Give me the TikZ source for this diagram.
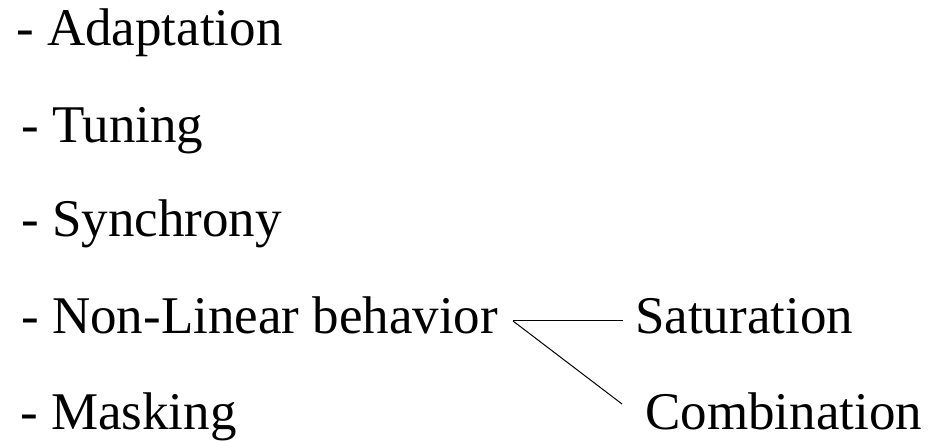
\documentclass[tikz,border=0pt]{standalone}
\usepackage{fontspec}
\setmainfont{Liberation Serif}
\begin{document}
\begin{tikzpicture}[x=1pt,y=1pt,
  item/.style={anchor=base west,inner sep=0pt,font=\fontsize{53}{60}\selectfont},
  conn/.style={line width=1pt,black}]
\useasboundingbox (0,0) rectangle (930,442);
\node[item] (ad) at (16,396) {- Adaptation};
\node[item] (tu) at (21,299) {- Tuning};
\node[item] (sy) at (21,205) {- Synchrony};
\node[item] (nl) at (21,108) {- Non-Linear behavior};
\node[item] (ma) at (20,12) {- Masking};
\node[item] (sa) at (635,108) {Saturation};
\node[item] (co) at (645,12) {Combination};
\coordinate (j) at (513,121);
\coordinate (je) at (623,121);
\coordinate (ce) at (622,38);
\draw[conn] (j) -- (je);
\draw[conn] (j) -- (ce);
\end{tikzpicture}
\end{document}
